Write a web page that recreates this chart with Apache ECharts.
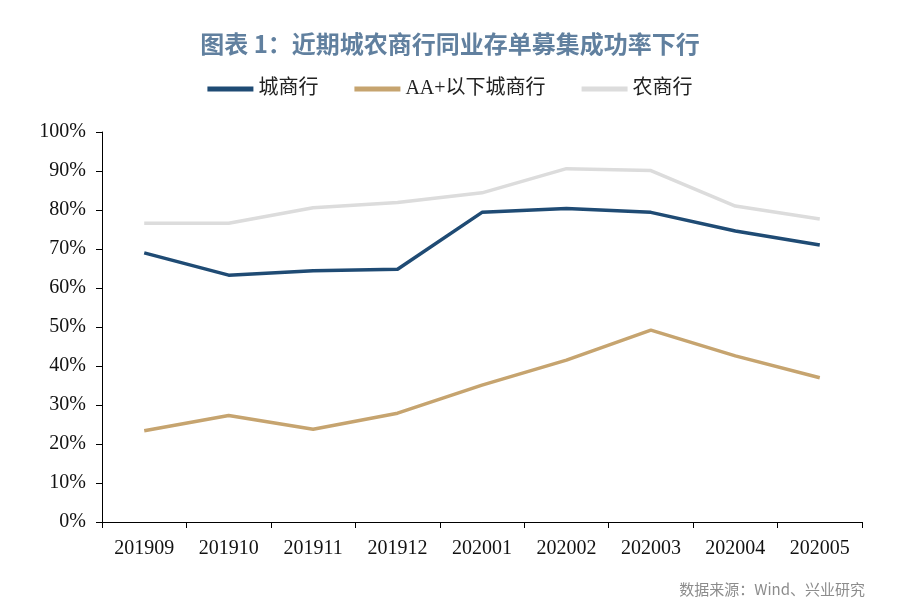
<!DOCTYPE html>
<html><head><meta charset="utf-8">
<script src="https://cdn.jsdelivr.net/npm/echarts@6/dist/echarts.min.js"></script>
<style>html,body{margin:0;padding:0;background:#fff}#c{width:900px;height:609px}</style>
</head><body><div id="c"></div>
<script>
var categories = ['201909','201910','201911','201912','202001','202002','202003','202004','202005'];
var cityBanks = [69.0, 63.3, 64.4, 64.8, 79.4, 80.4, 79.4, 74.6, 71.0];
var cityBanksAA = [23.4, 27.3, 23.8, 27.9, 35.1, 41.5, 49.2, 42.6, 37.0];
var ruralBanks = [76.6, 76.6, 80.6, 81.9, 84.4, 90.6, 90.1, 81.0, 77.7];
var seriesNames = ['城商行', 'AA+以下城商行', '农商行'];

var chart = echarts.init(document.getElementById('c'));
var serif = '"Liberation Serif","Times New Roman","Noto Sans CJK SC",serif';
chart.setOption({
  animation: false,
  title: [{
    text: '图表 1：近期城农商行同业存单募集成功率下行',
    left: 'center', top: 27,
    textStyle: {color: '#61809f', fontSize: 24, fontWeight: 'bold', fontFamily: '"Noto Sans CJK SC",sans-serif'}
  }, {
    text: '数据来源：Wind、兴业研究',
    right: 30, top: 577,
    textStyle: {color: '#8c8c8c', fontSize: 15, fontWeight: 'normal', fontFamily: '"Noto Sans CJK SC",sans-serif'}
  }],
  legend: {
    top: 74, left: 'center', itemGap: 36, itemWidth: 46, itemHeight: 5,
    icon: 'rect',
    textStyle: {fontSize: 20, color: '#222', fontFamily: serif},
    data: seriesNames
  },
  grid: {left: 102, right: 38, top: 132, bottom: 87},
  xAxis: {
    type: 'category', data: categories, boundaryGap: true,
    axisLine: {lineStyle: {color: '#000', width: 1}},
    axisTick: {show: true, inside: false, length: 6, lineStyle: {color: '#000'}},
    axisLabel: {color: '#111', fontSize: 20, fontFamily: serif, margin: 17}
  },
  yAxis: {
    type: 'value', min: 0, max: 100, interval: 10,
    axisLine: {show: true, lineStyle: {color: '#000', width: 1}},
    axisTick: {show: true, length: 6, lineStyle: {color: '#000'}},
    splitLine: {show: false},
    axisLabel: {formatter: '{value}%', color: '#111', fontSize: 20, fontFamily: serif, margin: 16}
  },
  series: [
    {name: seriesNames[0], type: 'line', data: cityBanks, symbol: 'none', lineStyle: {width: 3.5, color: '#1f4b74'}, itemStyle: {color: '#1f4b74'}, z: 3},
    {name: seriesNames[1], type: 'line', data: cityBanksAA, symbol: 'none', lineStyle: {width: 3.5, color: '#c6a46f'}, itemStyle: {color: '#c6a46f'}, z: 2},
    {name: seriesNames[2], type: 'line', data: ruralBanks, symbol: 'none', lineStyle: {width: 3.5, color: '#dcdcdc'}, itemStyle: {color: '#dcdcdc'}, z: 1}
  ]
});
</script></body></html>
